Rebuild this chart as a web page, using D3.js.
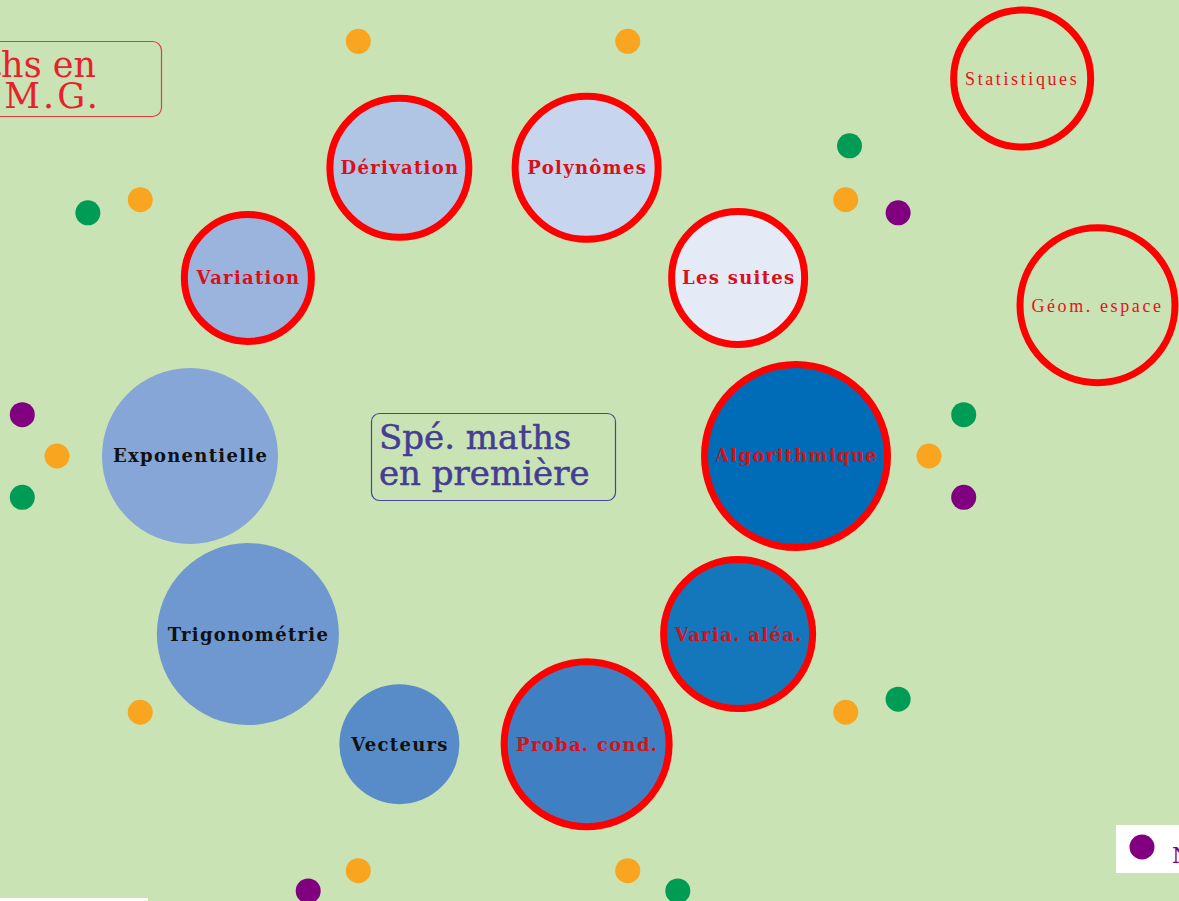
<!DOCTYPE html>
<html>
<head>
<meta charset="utf-8">
<script src="https://cdn.jsdelivr.net/npm/d3@7"></script>
<style>
  html, body { margin: 0; padding: 0; background: #c9e3b5; overflow: hidden; }
  svg { display: block; }
</style>
</head>
<body>
<svg id="map" width="1179" height="901"></svg>
<script>
// chapitres de la carte, dans l'ordre autour du centre
const topics = ["Dérivation", "Polynômes", "Les suites", "Algorithmique", "Varia. aléa.",
  "Proba. cond.", "Vecteurs", "Trigonométrie", "Exponentielle", "Variation"];
const topicWeight = [73, 75, 70, 95, 78, 86, 60, 91, 88, 67];
const topicStudied = [true, true, true, true, true, true, false, false, false, true];

// petits noeuds rattachés (vert / violet)
const satParent = ["Variation", "Les suites", "Les suites", "Algorithmique", "Algorithmique",
  "Varia. aléa.", "Proba. cond.", "Vecteurs", "Exponentielle", "Exponentielle"];
const satKind = ["Exercices", "Notions", "Exercices", "Exercices", "Notions",
  "Exercices", "Exercices", "Notions", "Notions", "Exercices"];

// autres chapitres (hors carte)
const otherTopics = ["Statistiques", "Géom. espace"];
const otherAngle = [-35.5, -14];
const otherDist = [650, 623];
const otherWeight = [72, 81];

const titleLines = ["Spé. maths", "en première"];
const sideTitleLines = ["Maths en", "S.T.M.G."];
const legendLabels = ["Notions"];

(() => {
  const svg = d3.select("#map");
  const W = 1179, H = 901;
  const cx = 493, cy = 456;
  const ringR = 303, dotR = 436, satDist = 54, satSpread = 50;
  const red = "#ff0000";
  const redText = "#d8101a";
  const orange = "#f9a51f";
  const kindColor = d3.scaleOrdinal().domain(["Exercices", "Notions"]).range(["#009b55", "#800080"]);
  const kindSide = d3.scaleOrdinal().domain(["Exercices", "Notions"]).range([-1, 1]);
  const fill = d3.scaleOrdinal().domain(topics).range([
    "#b0c4e4", "#c8d5ee", "#e4eaf6", "#006cb7", "#1477bc",
    "#4080c2", "#588cc8", "#6e98cf", "#85a6d6", "#9bb4de"]);
  const angle = d3.scaleLinear().domain([0, topics.length]).range([-108, 252]);
  const size = d3.scaleLinear().domain([0, 100]).range([0, 100]);
  const rad = (a) => (a * Math.PI) / 180;
  const polar = (a, r, ox = cx, oy = cy) => [ox + r * Math.cos(rad(a)), oy + r * Math.sin(rad(a))];

  svg.append("rect").attr("width", W).attr("height", H).attr("fill", "#c9e3b5");

  const nodes = topics.map((t, i) => {
    const a = angle(i);
    const [x, y] = polar(a, ringR);
    const [ox, oy] = polar(a, dotR);
    return { name: t, a, x, y, ox, oy, r: size(topicWeight[i]), studied: topicStudied[i] };
  });
  const byName = new Map(nodes.map((d) => [d.name, d]));

  // points orange (un par chapitre)
  svg.append("g")
    .selectAll("circle")
    .data(nodes)
    .join("circle")
    .attr("cx", (d) => d.ox)
    .attr("cy", (d) => d.oy)
    .attr("r", 12.5)
    .attr("fill", orange);

  const sats = satParent.map((p, i) => {
    const n = byName.get(p);
    const [x, y] = polar(n.a + kindSide(satKind[i]) * satSpread, satDist, n.ox, n.oy);
    return { x, y, kind: satKind[i] };
  });

  svg.append("g")
    .selectAll("circle")
    .data(sats)
    .join("circle")
    .attr("cx", (d) => d.x)
    .attr("cy", (d) => d.y)
    .attr("r", 12.5)
    .attr("fill", (d) => kindColor(d.kind));

  // chapitres
  const g = svg.append("g")
    .selectAll("g")
    .data(nodes)
    .join("g")
    .attr("transform", (d) => `translate(${d.x},${d.y})`);

  g.append("circle")
    .attr("r", (d) => (d.studied ? d.r - 3.5 : d.r))
    .attr("fill", (d) => fill(d.name))
    .attr("stroke", (d) => (d.studied ? red : "none"))
    .attr("stroke-width", 7);

  g.append("text")
    .attr("text-anchor", "middle")
    .attr("x", 0.6)
    .attr("dy", "0.36em")
    .attr("font-family", "DejaVu Serif")
    .attr("font-weight", "bold")
    .attr("font-size", 18)
    .attr("letter-spacing", 1.3)
    .attr("fill", (d) => (d.studied ? redText : "#111"))
    .text((d) => d.name);

  // chapitres isolés
  const others = otherTopics.map((t, i) => {
    const [x, y] = polar(otherAngle[i], otherDist[i]);
    return { name: t, x, y, r: size(otherWeight[i]) };
  });
  const og = svg.append("g")
    .selectAll("g")
    .data(others)
    .join("g")
    .attr("transform", (d) => `translate(${d.x},${d.y})`);
  og.append("circle")
    .attr("r", (d) => d.r - 3.5)
    .attr("fill", "none")
    .attr("stroke", red)
    .attr("stroke-width", 7);
  og.append("text")
    .attr("text-anchor", "middle")
    .attr("dy", "0.36em")
    .attr("font-family", "Liberation Serif")
    .attr("font-size", 18)
    .attr("letter-spacing", 2.6)
    .attr("fill", "#e8101a")
    .text((d) => d.name);

  // titre central
  svg.append("rect")
    .attr("x", 371.5).attr("y", 413.5)
    .attr("width", 244).attr("height", 87)
    .attr("rx", 8)
    .attr("fill", "none")
    .attr("stroke", "#4b4595")
    .attr("stroke-width", 1.2);
  svg.append("text")
    .attr("font-family", "DejaVu Serif")
    .attr("font-size", 34)
    .attr("fill", "#453c94")
    .attr("stroke", "#453c94")
    .attr("stroke-width", 0.5)
    .selectAll("tspan")
    .data(titleLines)
    .join("tspan")
    .attr("x", 379)
    .attr("y", (d, i) => 449 + i * 36)
    .text((d) => d);

  // titre de l'autre carte (coupé à gauche)
  svg.append("rect")
    .attr("x", -100.5).attr("y", 41.5)
    .attr("width", 262).attr("height", 75)
    .attr("rx", 9)
    .attr("fill", "none")
    .attr("stroke", "#e53a3f")
    .attr("stroke-width", 1.2);
  svg.append("text")
    .attr("font-family", "DejaVu Serif")
    .attr("font-size", 35)
    .attr("fill", "#e8202a")
    .attr("text-anchor", "end")
    .selectAll("tspan")
    .data(sideTitleLines)
    .join("tspan")
    .attr("x", (d, i) => (i ? 101 : 96))
    .attr("y", (d, i) => 77 + i * 31)
    .attr("letter-spacing", (d, i) => (i ? 3 : 0))
    .text((d) => d);

  // légendes
  svg.append("rect").attr("x", 1116).attr("y", 825).attr("width", 80).attr("height", 48).attr("fill", "#fff");
  svg.append("rect").attr("x", 0).attr("y", 898).attr("width", 148).attr("height", 10).attr("fill", "#fff");
  const lg = svg.append("g")
    .selectAll("g")
    .data(legendLabels)
    .join("g")
    .attr("transform", (d, i) => `translate(1142,${847 + i * 30})`);
  lg.append("circle").attr("r", 12.5).attr("fill", (d) => kindColor(d));
  lg.append("text")
    .attr("x", 30)
    .attr("y", 16)
    .attr("font-family", "DejaVu Serif")
    .attr("font-size", 22)
    .attr("fill", (d) => kindColor(d))
    .text((d) => d);
})();
</script>
</body>
</html>
